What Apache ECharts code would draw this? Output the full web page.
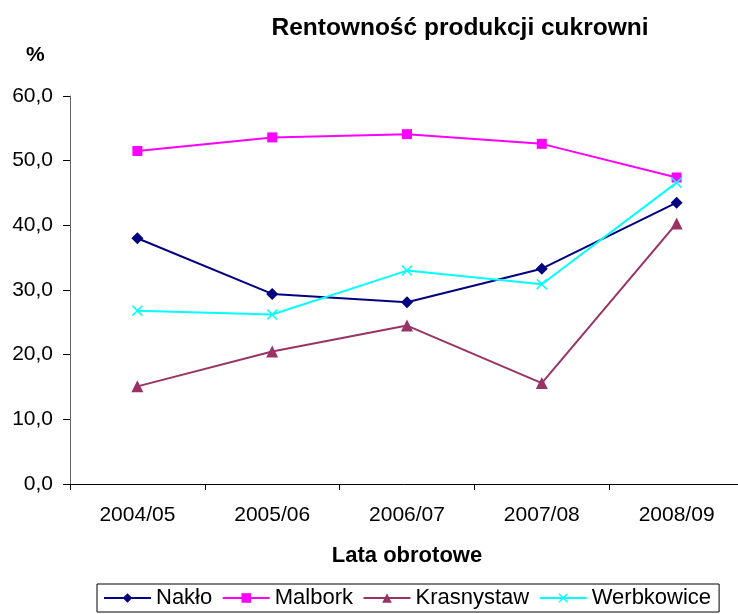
<!DOCTYPE html>
<html>
<head>
<meta charset="utf-8">
<script src="https://cdn.jsdelivr.net/npm/echarts@6/dist/echarts.min.js"></script>
<style>
html,body{margin:0;padding:0;background:#fff;}
#chart{width:738px;height:614px;}
</style>
</head>
<body>
<div id="chart"></div>
<script>
var categories = ['2004/05', '2005/06', '2006/07', '2007/08', '2008/09'];
var naklo = [38.0, 29.4, 28.1, 33.3, 43.5];
var malbork = [51.5, 53.6, 54.1, 52.6, 47.4];
var krasnystaw = [15.1, 20.5, 24.5, 15.6, 40.3];
var werbkowice = [26.8, 26.2, 33.0, 30.9, 46.6];
var yTicks = [0, 10, 20, 30, 40, 50, 60];

var FONT = 'Liberation Sans, Arial, sans-serif';
var xPath = 'path://M0,1L1,0L5,4L9,0L10,1L6,5L10,9L9,10L5,6L1,10L0,9L4,5Z';

function mk(name, data, color, symbol, size) {
  return {
    name: name, type: 'line', data: data,
    symbol: symbol, symbolSize: size,
    showAllSymbol: true,
    lineStyle: {color: color, width: 2},
    itemStyle: {color: color},
    emphasis: {disabled: true},
    animation: false
  };
}

var chart = echarts.init(document.getElementById('chart'));
chart.setOption({
  backgroundColor: '#fff',
  animation: false,
  title: [
    {text: 'Rentowność produkcji cukrowni', left: 455, top: 11, textAlign: 'center',
     textStyle: {fontFamily: FONT, fontSize: 24.5, fontWeight: 'bold', color: '#000'}},
    {text: '%', left: 21, top: 40,
     textStyle: {fontFamily: FONT, fontSize: 21, fontWeight: 'bold', color: '#000'}}
  ],
  grid: {left: 70, right: -6, top: 96, bottom: 130, containLabel: false, outerBoundsMode: 'none'},
  legend: {
    left: 97, top: 584,
    padding: [3, 8, 3, 6],
    borderColor: '#000', borderWidth: 1,
    itemWidth: 47, itemHeight: 12, itemGap: 9.5,
    textStyle: {fontFamily: FONT, fontSize: 22, color: '#000'},
    data: ['Nakło', 'Malbork', 'Krasnystaw', 'Werbkowice']
  },
  xAxis: {
    type: 'category', data: categories, boundaryGap: true,
    name: 'Lata obrotowe', nameLocation: 'middle', nameGap: 61,
    nameTextStyle: {fontFamily: FONT, fontSize: 22, fontWeight: 'bold', color: '#000'},
    axisLine: {lineStyle: {color: '#000', width: 1}},
    axisTick: {show: true, length: 6, inside: false, lineStyle: {color: '#000'}},
    axisLabel: {fontFamily: FONT, fontSize: 21, color: '#000', margin: 21}
  },
  yAxis: {
    type: 'value', min: yTicks[0], max: yTicks[yTicks.length - 1], interval: 10,
    axisLine: {show: true, lineStyle: {color: '#666', width: 1}},
    axisTick: {show: true, length: 7, lineStyle: {color: '#000'}},
    splitLine: {show: false},
    axisLabel: {fontFamily: FONT, fontSize: 21, color: '#000', margin: 17,
      formatter: function (v) { return v.toFixed(1).replace('.', ','); }}
  },
  series: [
    mk('Nakło', naklo, '#000080', 'diamond', 12),
    mk('Malbork', malbork, '#FF00FF', 'rect', 10),
    mk('Krasnystaw', krasnystaw, '#993366', 'triangle', 12),
    mk('Werbkowice', werbkowice, '#00FFFF', xPath, 11)
  ]
});
</script>
</body>
</html>
